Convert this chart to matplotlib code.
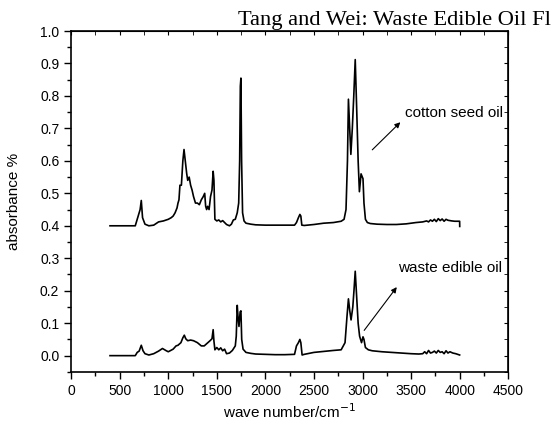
import matplotlib.pyplot as plt
from matplotlib.ticker import MultipleLocator
import numpy as np

# cotton seed oil spectrum, (wavenumber, absorbance)
cotton_pts = [
    (400, 0.400), (500, 0.400), (600, 0.400), (660, 0.400), (690, 0.430),
    (710, 0.450), (722, 0.478), (735, 0.425), (760, 0.405), (800, 0.400),
    (850, 0.402), (900, 0.412), (950, 0.415), (1000, 0.420), (1030, 0.425),
    (1050, 0.430), (1070, 0.440), (1090, 0.455), (1100, 0.470), (1110, 0.480),
    (1120, 0.525), (1135, 0.525), (1150, 0.600), (1162, 0.635), (1175, 0.600),
    (1190, 0.560), (1200, 0.540), (1215, 0.550), (1230, 0.525), (1245, 0.510),
    (1260, 0.490), (1280, 0.470), (1300, 0.470), (1320, 0.465), (1340, 0.480),
    (1360, 0.490), (1375, 0.500), (1385, 0.460), (1395, 0.450), (1405, 0.460),
    (1420, 0.450), (1435, 0.490), (1450, 0.510), (1462, 0.568), (1470, 0.540),
    (1480, 0.420), (1500, 0.415), (1520, 0.418), (1540, 0.412), (1560, 0.416),
    (1580, 0.410), (1600, 0.404), (1630, 0.400), (1650, 0.405), (1670, 0.418),
    (1690, 0.420), (1710, 0.440), (1725, 0.470), (1735, 0.600), (1742, 0.830),
    (1748, 0.855), (1755, 0.600), (1765, 0.440), (1780, 0.415), (1800, 0.408),
    (1850, 0.405), (1900, 0.403), (2000, 0.402), (2100, 0.402), (2200, 0.402),
    (2300, 0.402), (2320, 0.410), (2340, 0.425), (2355, 0.435), (2365, 0.430),
    (2375, 0.402), (2400, 0.401), (2500, 0.404), (2600, 0.408), (2700, 0.410),
    (2780, 0.414), (2810, 0.420), (2830, 0.450), (2845, 0.600), (2855, 0.790),
    (2868, 0.700), (2880, 0.620), (2895, 0.700), (2910, 0.800), (2925, 0.912),
    (2940, 0.760), (2955, 0.600), (2968, 0.505), (2985, 0.560), (3005, 0.545),
    (3015, 0.470), (3030, 0.420), (3050, 0.410), (3080, 0.407), (3150, 0.405),
    (3250, 0.404), (3350, 0.404), (3450, 0.406), (3550, 0.410), (3620, 0.412),
    (3660, 0.415), (3680, 0.412), (3700, 0.418), (3720, 0.414), (3740, 0.420),
    (3760, 0.413), (3780, 0.422), (3800, 0.416), (3820, 0.421), (3840, 0.414),
    (3860, 0.420), (3880, 0.417), (3900, 0.416), (3920, 0.415), (3950, 0.414),
    (4000, 0.414), (4001, 0.398),
]

# waste edible oil spectrum
waste_pts = [
    (400, 0.000), (500, 0.000), (600, 0.000), (660, 0.000), (680, 0.010),
    (700, 0.014), (722, 0.032), (740, 0.015), (760, 0.006), (800, 0.002),
    (850, 0.006), (900, 0.014), (940, 0.022), (980, 0.015), (1000, 0.012),
    (1050, 0.020), (1080, 0.030), (1100, 0.032), (1130, 0.040), (1150, 0.055),
    (1165, 0.063), (1180, 0.052), (1200, 0.046), (1230, 0.048), (1260, 0.046),
    (1300, 0.040), (1340, 0.030), (1370, 0.030), (1400, 0.038), (1430, 0.046),
    (1450, 0.052), (1462, 0.080), (1470, 0.045), (1480, 0.018), (1500, 0.025),
    (1520, 0.018), (1540, 0.024), (1560, 0.015), (1580, 0.020), (1600, 0.006),
    (1630, 0.008), (1660, 0.016), (1690, 0.030), (1700, 0.060), (1710, 0.155),
    (1718, 0.120), (1728, 0.090), (1740, 0.135), (1748, 0.138), (1756, 0.050),
    (1770, 0.020), (1800, 0.010), (1850, 0.007), (1900, 0.005), (2000, 0.004),
    (2100, 0.003), (2200, 0.003), (2300, 0.004), (2320, 0.030), (2340, 0.040),
    (2355, 0.050), (2365, 0.040), (2378, 0.002), (2400, 0.004), (2500, 0.010),
    (2600, 0.013), (2700, 0.016), (2780, 0.018), (2820, 0.040), (2840, 0.120),
    (2855, 0.175), (2868, 0.140), (2882, 0.110), (2900, 0.150), (2912, 0.200),
    (2925, 0.260), (2940, 0.180), (2955, 0.100), (2970, 0.060), (2990, 0.040),
    (3005, 0.058), (3015, 0.050), (3030, 0.025), (3060, 0.018), (3100, 0.015),
    (3200, 0.012), (3300, 0.010), (3400, 0.008), (3500, 0.006), (3580, 0.005),
    (3620, 0.006), (3640, 0.012), (3660, 0.006), (3680, 0.016), (3700, 0.008),
    (3720, 0.010), (3740, 0.014), (3760, 0.008), (3780, 0.016), (3800, 0.010),
    (3820, 0.012), (3840, 0.006), (3860, 0.015), (3880, 0.008), (3900, 0.012),
    (3930, 0.008), (3960, 0.006), (4000, 0.002),
]

cotton_wn, cotton_abs = zip(*cotton_pts)
waste_wn, waste_abs = zip(*waste_pts)

x_ticks = np.arange(0, 4501, 500)
y_ticks = np.round(np.arange(0.0, 1.01, 0.1), 1)

plt.rcParams['font.family'] = ['Liberation Sans', 'DejaVu Sans']

fig = plt.figure(figsize=(5.56, 4.25), dpi=100)
ax = fig.add_axes([0.128, 0.125, 0.786, 0.802])

ax.plot(cotton_wn, cotton_abs, color='black', lw=1.2)
ax.plot(waste_wn, waste_abs, color='black', lw=1.2)

ax.set_xlim(0, 4500)
ax.set_ylim(-0.05, 1.0)
ax.set_xticks(x_ticks)
ax.set_yticks(y_ticks)
ax.xaxis.set_minor_locator(MultipleLocator(250))
ax.yaxis.set_minor_locator(MultipleLocator(0.05))
ax.tick_params(which='major', direction='out', length=5, width=1, labelsize=10)
ax.tick_params(which='minor', direction='out', length=3, width=1)

for s in ax.spines.values():
    s.set_linewidth(1.2)

top = ax.secondary_xaxis('top')
top.set_xticks(x_ticks)
top.xaxis.set_minor_locator(MultipleLocator(250))
top.tick_params(which='both', direction='in', labeltop=False, length=3)
right = ax.secondary_yaxis('right')
right.set_yticks(y_ticks)
right.yaxis.set_minor_locator(MultipleLocator(0.05))
right.tick_params(which='both', direction='in', labelright=False, length=3)

ax.set_xlabel('wave number/cm$^{-1}$', fontsize=11, labelpad=3)
ax.set_ylabel('absorbance %', fontsize=11, labelpad=14)

# labels with arrows
ax.annotate('', xy=(3410, 0.725), xytext=(3080, 0.628),
            arrowprops=dict(arrowstyle='-|>', color='black', lw=0.8, mutation_scale=8))
ax.text(4445, 0.748, 'cotton seed oil', fontsize=11, va='center', ha='right')
ax.annotate('', xy=(3370, 0.218), xytext=(3000, 0.071),
            arrowprops=dict(arrowstyle='-|>', color='black', lw=0.8, mutation_scale=8))
ax.text(4440, 0.27, 'waste edible oil', fontsize=11, va='center', ha='right')

# running page header from the scanned page
fig.text(0.428, 0.941, 'Tang and Wei: Waste Edible Oil Fl', fontsize=16.2,
         family=['Liberation Serif', 'DejaVu Serif'], ha='left', va='baseline')

fig.savefig('out.png', dpi=100)
